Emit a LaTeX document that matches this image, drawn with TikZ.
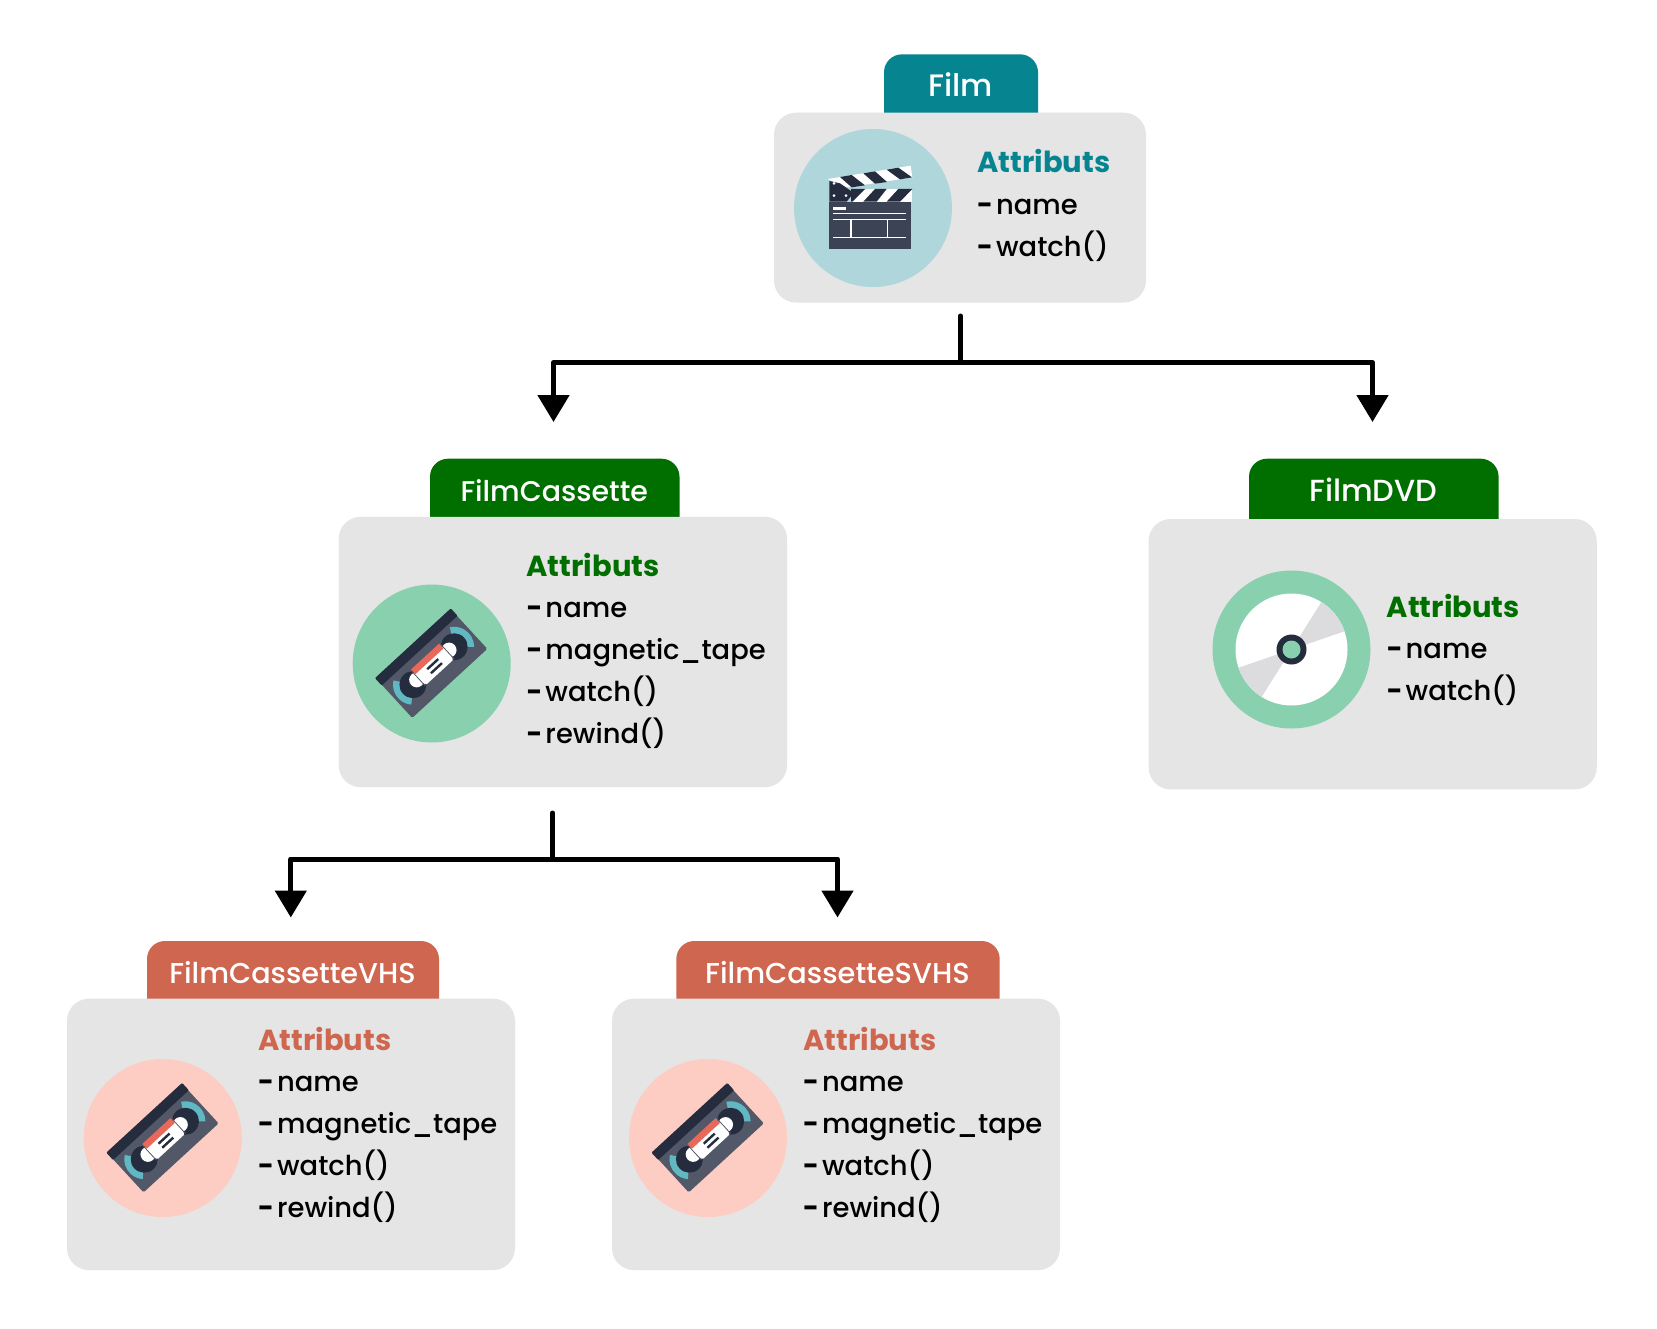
\documentclass[tikz,border=0pt]{standalone}
\usepackage{fontspec}
\usetikzlibrary{arrows.meta,calc}
\setmainfont{Poppins Medium}[BoldFont={Poppins Bold}]
\definecolor{teal}{HTML}{068490}
\definecolor{tealL}{HTML}{AED6DB}
\definecolor{grn}{HTML}{006F00}
\definecolor{grnL}{HTML}{89D1AE}
\definecolor{rst}{HTML}{CF664F}
\definecolor{rstL}{HTML}{FDCCC2}
\definecolor{panel}{HTML}{E5E5E5}
\definecolor{ink}{HTML}{252C3E}
\definecolor{slate}{HTML}{3C4354}
\definecolor{shell}{HTML}{525868}
\definecolor{spool}{HTML}{5FB8C2}
\definecolor{lab}{HTML}{E8695A}
\definecolor{wedge}{HTML}{DCDCDF}
\newcommand{\dsh}{{\bfseries -}\kern 3pt\relax}
\tikzset{
  x=1pt,y=-1pt,
  panelbox/.style={fill=panel,rounded corners=22pt,inner sep=0pt,outer sep=0pt},
  tabtitle/.style={text=white,anchor=base,inner sep=0pt},
  attrhead/.style={font=\fontsize{29}{29}\selectfont\bfseries,anchor=base west,inner sep=0pt},
  attrline/.style={text=black,font=\fontsize{27.4}{27}\selectfont,anchor=base west,inner sep=0pt},
  conn/.style={line width=5pt,line join=round,line cap=round},
  arrowed/.style={conn,-{Triangle[length=27pt,width=31pt]}},
}
% #1 name, #2 x0, #3 x1, #4 ytop, #5 ymid, #6 colour, #7 size, #8 title
\newcommand{\classtab}[8]{%
  \fill[#6] (#2,#5) [rounded corners=18pt] -- (#2,#4) -- (#3,#4) [sharp corners] -- (#3,#5) -- cycle;
  \node[tabtitle,font=\fontsize{#7}{#7}\selectfont] (#1title) at ({(#2+#3)/2-0.5},#4+42.5) {#8};
}
\newcommand{\cassette}[2]{%
\begin{scope}[shift={(#1,#2)},rotate=42.6,y=1pt,x=1pt]
  \fill[shell,rounded corners=1.5pt] (-51,-27) rectangle (51,27);
  \fill[ink,rounded corners=1pt] (-51.5,17.5) rectangle (51.5,27.5);
  \fill[spool] (28,-3) -- ++(-42.9:20) arc[start angle=-42.9,end angle=60,radius=20] -- cycle;
  \fill[spool] (-28,-3) -- ++(125:20) arc[start angle=125,end angle=223,radius=20] -- cycle;
  \fill[ink] (28,-3) circle[radius=13.5];
  \fill[ink] (-28,-3) circle[radius=13.5];
  \fill[white] (22,-2) circle[radius=7.5];
  \fill[white] (-22,-2) circle[radius=7.5];
  \draw[shell,line width=.9pt] (19.7,-12) -- (19.7,9.5) (-19.7,-12) -- (-19.7,9.5);
  \fill[white,rounded corners=1.5pt] (-19,-12) rectangle (19,5);
  \fill[lab] (-19,3) rectangle (19,9.5);
  \draw[ink,line width=2.4pt] (-7,-1.3) -- (8,-1.3) (-7,-6.8) -- (8,-6.8);
\end{scope}}
\begin{document}
\begin{tikzpicture}
\useasboundingbox (0,0) rectangle (1657,1328);
\fill[white] (0,0) rectangle (1657,1328);

% tabs
\classtab{film}{884}{1038}{54.3}{113}{teal}{31}{Film}
\classtab{cass}{430}{679.5}{458.7}{517}{grn}{28.5}{FilmCassette}
\classtab{dvd}{1249}{1498.6}{458.7}{519.5}{grn}{30.5}{FilmDVD}
\classtab{vhs}{147}{439}{941}{999}{rst}{28.7}{FilmCassetteVHS}
\classtab{svhs}{676.3}{999.7}{941}{999}{rst}{28.8}{FilmCassetteSVHS}

% panels
\node[panelbox,minimum width=372pt,minimum height=189.8pt] (filmbox) at (960,207.6) {};
\node[panelbox,minimum width=448.3pt,minimum height=270.4pt] (cassbox) at (562.9,652) {};
\node[panelbox,minimum width=448.1pt,minimum height=270.4pt] (dvdbox) at (1372.7,654.2) {};
\node[panelbox,minimum width=448pt,minimum height=271.4pt] (vhsbox) at (291,1134.4) {};
\node[panelbox,minimum width=448pt,minimum height=271.4pt] (svhsbox) at (836,1134.4) {};

% icon discs
\fill[tealL] (873,208) circle[radius=79];
\fill[grnL] (431.7,663.5) circle[radius=79];
\fill[grnL] (1291.5,649.5) circle[radius=79];
\fill[rstL] (162.8,1138) circle[radius=79];
\fill[rstL] (708,1138) circle[radius=79];

% clapperboard
\begin{scope}[shift={(815,155)},x=.3333pt,y=-.3333pt]
  \fill[slate] (43,140) rectangle (287,283);
  \fill[white] (108,102) rectangle (292,140);
  \fill[ink] (108,140) -- (108,102) -- (150,102) -- (112,140) -- cycle;
  \fill[ink] (145,140) -- (180,102) -- (215,102) -- (185,140) -- cycle;
  \fill[ink] (215,140) -- (250,102) -- (292,102) -- (255,140) -- cycle;
  \fill[white] (38,72) -- (287,32) -- (292,67) -- (100,97) -- (74,90) -- cycle;
  \fill[ink] (75,66) -- (110,60) -- (150,91) -- (110,97) -- cycle;
  \fill[ink] (145,55) -- (180,49) -- (216,81) -- (180,86) -- cycle;
  \fill[ink] (215,44) -- (250,38) -- (291,67) -- (255,73) -- cycle;
  \fill[ink] (43,78) -- (75,85) -- (108,108) -- (108,124) -- (95,140) -- (43,140) -- cycle;
  \foreach \p in {(57,85),(57,122),(93,122)}{\fill[white] \p circle[radius=4.5];}
  \fill[white] (55,155) rectangle (92,164);
  \draw[white,line width=1.3pt] (55,176) -- (272,176) (55,194) -- (272,194) (55,248) -- (272,248) (108,194) -- (108,248) (218,194) -- (218,248);
\end{scope}

% cassettes
\cassette{431.5}{663.5}
\cassette{162.8}{1138}
\cassette{708}{1138}

% disc
\fill[white] (1291.5,649.5) circle[radius=56];
\begin{scope}[shift={(1291.5,649.5)}]
  \fill[wedge] (0,0) -- (-57.8:56) arc[start angle=-57.8,end angle=-19,radius=56] -- cycle;
  \fill[wedge] (0,0) -- (122.2:56) arc[start angle=122.2,end angle=161,radius=56] -- cycle;
  \fill[ink] (0,0) circle[radius=15];
  \fill[grnL] (0,0) circle[radius=9];
\end{scope}

% text
\node[attrhead,text=teal] (filmh) at (977,172.7) {Attributs};
\node[attrline] (film1) at (977,214) {\dsh name};
\node[attrline] (film2) at (977,256) {\dsh watch()};

\node[attrhead,text=grn] (cassh) at (526.4,576) {Attributs};
\node[attrline] (cass1) at (526.4,617.5) {\dsh name};
\node[attrline] (cass2) at (526.4,659.5) {\dsh magnetic\_tape};
\node[attrline] (cass3) at (526.4,701.5) {\dsh watch()};
\node[attrline] (cass4) at (526.4,743.5) {\dsh rewind()};

\node[attrhead,text=grn] (dvdh) at (1386.6,617) {Attributs};
\node[attrline] (dvd1) at (1386.6,658.5) {\dsh name};
\node[attrline] (dvd2) at (1386.6,700.5) {\dsh watch()};

\node[attrhead,text=rst] (vhsh) at (258,1050) {Attributs};
\node[attrline] (vhs1) at (258,1091.5) {\dsh name};
\node[attrline] (vhs2) at (258,1133.5) {\dsh magnetic\_tape};
\node[attrline] (vhs3) at (258,1175.5) {\dsh watch()};
\node[attrline] (vhs4) at (258,1217.5) {\dsh rewind()};

\node[attrhead,text=rst] (svhsh) at (803,1050) {Attributs};
\node[attrline] (svhs1) at (803,1091.5) {\dsh name};
\node[attrline] (svhs2) at (803,1133.5) {\dsh magnetic\_tape};
\node[attrline] (svhs3) at (803,1175.5) {\dsh watch()};
\node[attrline] (svhs4) at (803,1217.5) {\dsh rewind()};

% connectors
\coordinate (filmout) at (960.5,316);
\coordinate (filmjoin) at (960.5,362.5);
\coordinate (cassin) at (553.5,422);
\coordinate (dvdin) at (1372.5,422);
\coordinate (cassout) at (552.5,813);
\coordinate (cassjoin) at (552.5,859);
\coordinate (vhsin) at (290.8,917.5);
\coordinate (svhsin) at (837.5,917.5);
\draw[conn] (filmout) -- (filmjoin);
\draw[arrowed] (filmjoin) -| (cassin);
\draw[arrowed] (filmjoin) -| (dvdin);
\draw[conn] (cassout) -- (cassjoin);
\draw[arrowed] (cassjoin) -| (vhsin);
\draw[arrowed] (cassjoin) -| (svhsin);
\end{tikzpicture}
\end{document}
